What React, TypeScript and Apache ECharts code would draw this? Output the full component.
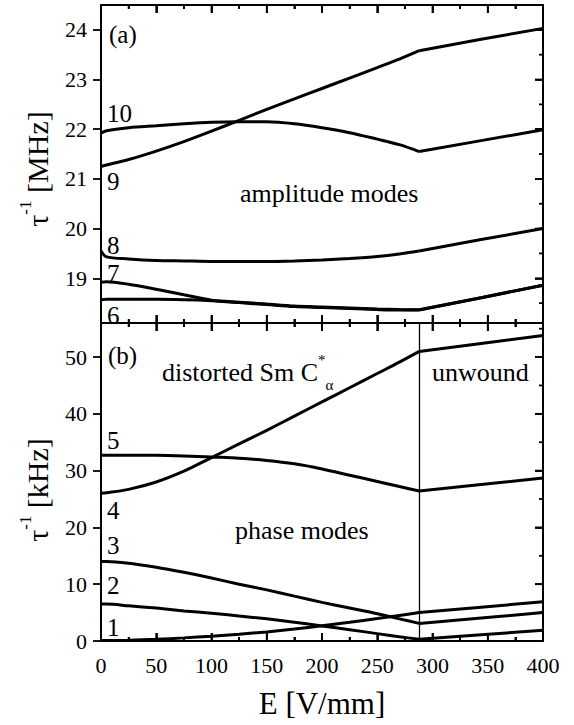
import React, { useEffect, useRef } from "react";
import * as echarts from "echarts";

// ---- data ----
const E = [0, 5, 25, 50, 75, 100, 125, 150, 175, 200, 225, 250, 270, 288, 344, 400];
const E_TRANSITION = 288;

// (a) amplitude modes, MHz
const mode10 = [21.92, 21.97, 22.03, 22.07, 22.11, 22.14, 22.15, 22.15, 22.11, 22.03, 21.93, 21.8, 21.69, 21.55, 21.77, 21.99];
const mode9 = [21.25, 21.28, 21.39, 21.56, 21.75, 21.96, 22.18, 22.4, 22.61, 22.82, 23.03, 23.24, 23.41, 23.58, 23.81, 24.03];
const mode8 = [19.55, 19.43, 19.39, 19.36, 19.35, 19.34, 19.34, 19.34, 19.35, 19.37, 19.4, 19.44, 19.49, 19.55, 19.78, 20.0];
const mode7 = [18.92, 18.93, 18.88, 18.78, 18.67, 18.56, 18.51, 18.47, 18.43, 18.41, 18.39, 18.37, 18.36, 18.36, 18.61, 18.86];
const mode6 = [18.57, 18.58, 18.58, 18.58, 18.57, 18.55, 18.52, 18.48, 18.44, 18.42, 18.4, 18.38, 18.37, 18.365, 18.61, 18.86];

// (b) phase modes, kHz
const mode5 = [32.7, 32.7, 32.7, 32.7, 32.6, 32.4, 32.2, 31.8, 31.2, 30.3, 29.2, 28.1, 27.2, 26.4, 27.55, 28.7];
const mode4 = [26.0, 26.1, 26.7, 28.0, 29.9, 32.3, 34.7, 37.1, 39.6, 42.1, 44.6, 47.1, 49.1, 51.0, 52.4, 53.8];
const mode3 = [14.0, 14.0, 13.7, 13.0, 12.1, 11.1, 10.0, 9.0, 7.9, 6.8, 5.8, 4.8, 3.9, 3.1, 4.05, 5.0];
const mode2 = [6.5, 6.5, 6.2, 5.8, 5.3, 4.9, 4.4, 3.9, 3.3, 2.65, 2.0, 1.3, 0.75, 0.3, 1.1, 1.9];
const mode1 = [0.1, 0.1, 0.15, 0.3, 0.55, 0.85, 1.2, 1.6, 2.1, 2.7, 3.3, 3.95, 4.5, 5.0, 5.95, 6.9];

// ---- axes / ticks ----
const X_MIN = 0;
const X_MAX = 400;
const X_STEP = 50;
const xMajorTicks = [0, 50, 100, 150, 200, 250, 300, 350, 400];
const xMinorTicks = [25, 75, 125, 175, 225, 275, 325, 375];
const TOP_MIN = 18.1;
const TOP_MAX = 24.5;
const topMajorTicks = [19, 20, 21, 22, 23, 24];
const topMinorTicks = [18.5, 19.5, 20.5, 21.5, 22.5, 23.5];
const BOT_MIN = 0;
const BOT_MAX = 56;
const botMajorTicks = [0, 10, 20, 30, 40, 50];
const botMinorTicks = [5, 15, 25, 35, 45, 55];

const FONT = "Liberation Serif";
const BLACK = "#000";

const GRID_LEFT = 101;
const GRID_W = 442;
const GRID_H = 318;
const TOP_Y = 5;
const BOT_Y = TOP_Y + GRID_H;
const MAJOR_LEN = 8;
const MINOR_LEN = 4;
const TICK_W = 1.8;

function xAxisDef(gridIndex: number, position: string, showLabel: boolean, extra: any = {}) {
  return {
    type: "value",
    gridIndex,
    position,
    min: X_MIN,
    max: X_MAX,
    interval: X_STEP,
    axisLine: { show: true, onZero: false, lineStyle: { color: BLACK, width: 2 } },
    axisTick: { show: true, inside: true, length: MAJOR_LEN, lineStyle: { color: BLACK, width: TICK_W } },
    minorTick: { show: true, splitNumber: 2, length: MINOR_LEN, lineStyle: { color: BLACK, width: TICK_W } },
    axisLabel: { show: showLabel, fontSize: 22, color: BLACK, fontFamily: FONT, margin: 13 },
    splitLine: { show: false },
    minorSplitLine: { show: false },
    ...extra,
  };
}

function yAxisDef(gridIndex: number, position: string, min: number, max: number, major: number[], showLabel: boolean) {
  return {
    type: "value",
    gridIndex,
    position,
    min,
    max,
    axisLine: { show: true, onZero: false, lineStyle: { color: BLACK, width: 2 } },
    axisTick: {
      show: true,
      inside: position === "right",
      length: MAJOR_LEN,
      customValues: major,
      lineStyle: { color: BLACK, width: TICK_W },
    },
    axisLabel: showLabel
      ? { show: true, customValues: major, fontSize: 22, color: BLACK, fontFamily: FONT, margin: 14 }
      : { show: false },
    splitLine: { show: false },
  };
}

// one short tick segment, drawn as a line series through the axis scales
function tickLine(xi: number, yi: number, p1: number[], p2: number[]) {
  return {
    type: "line",
    name: "tick",
    xAxisIndex: xi,
    yAxisIndex: yi,
    data: [p1, p2],
    showSymbol: false,
    symbol: "none",
    clip: false,
    silent: true,
    z: 4,
    lineStyle: { color: BLACK, width: TICK_W, cap: "butt" },
    itemStyle: { color: BLACK },
  };
}

function panelTicks(xi: number, yi: number, yMin: number, yMax: number, yMajor: number[], yMinor: number[]) {
  const dyPerPx = (yMax - yMin) / GRID_H;
  const dxPerPx = (X_MAX - X_MIN) / GRID_W;
  const out: any[] = [];
  const xs = [
    ...xMajorTicks.map((v) => [v, MAJOR_LEN]),
    ...xMinorTicks.map((v) => [v, MINOR_LEN]),
  ];
  xs.forEach(([v, len]) => {
    out.push(tickLine(xi, yi, [v, yMin], [v, yMin + len * dyPerPx]));
    out.push(tickLine(xi, yi, [v, yMax], [v, yMax - len * dyPerPx]));
  });
  const ys = [...yMajor.map((v) => [v, MAJOR_LEN]), ...yMinor.map((v) => [v, MINOR_LEN])];
  ys.forEach(([v, len]) => {
    out.push(tickLine(xi, yi, [X_MIN, v], [X_MIN - len * dxPerPx, v]));
    out.push(tickLine(xi, yi, [X_MAX, v], [X_MAX - len * dxPerPx, v]));
  });
  return out;
}

const splitIdx = E.indexOf(E_TRANSITION);

function curve(name: string, values: number[], xi: number, yi: number, withMark = false) {
  const pts = E.map((e, i) => [e, values[i]]);
  const base = {
    type: "line",
    xAxisIndex: xi,
    yAxisIndex: yi,
    showSymbol: false,
    symbol: "none",
    lineStyle: { color: BLACK, width: 3 },
    itemStyle: { color: BLACK },
    z: 3,
  };
  const pre: any = { ...base, name: name + " (Sm C*α)", data: pts.slice(0, splitIdx + 1), smooth: 0.3 };
  if (withMark) {
    pre.markLine = {
      silent: true,
      symbol: "none",
      label: { show: false },
      lineStyle: { color: BLACK, width: 1.3, type: "solid" },
      data: [{ xAxis: E_TRANSITION }],
    };
  }
  return [pre, { ...base, name: name + " (unwound)", data: pts.slice(splitIdx), smooth: false }];
}

function label(text: string, x: number, y: number, size = 25, align = "left") {
  return {
    type: "text",
    x,
    y,
    silent: true,
    style: { text, fill: BLACK, fontSize: size, fontFamily: FONT, align, verticalAlign: "middle" },
  };
}

function yTitle(unit: string, x: number, y: number) {
  return {
    type: "text",
    x,
    y,
    rotation: Math.PI / 2,
    silent: true,
    style: {
      text: `{t|τ}{s|-1}{t| [${unit}]}`,
      fill: BLACK,
      fontFamily: FONT,
      align: "center",
      verticalAlign: "middle",
      rich: {
        t: { fontSize: 30, fontFamily: FONT, fill: BLACK, lineHeight: 40 },
        s: { fontSize: 17, fontFamily: FONT, fill: BLACK, verticalAlign: "top", lineHeight: 17 },
      },
    },
  };
}

export default function App() {
  const ref = useRef<HTMLDivElement>(null);

  useEffect(() => {
    if (!ref.current) return;
    const chart = echarts.init(ref.current, null, { renderer: "svg" });

    const option: any = {
      animation: false,
      backgroundColor: "#fff",
      textStyle: { fontFamily: FONT },
      grid: [
        { left: GRID_LEFT, top: TOP_Y, width: GRID_W, height: GRID_H },
        { left: GRID_LEFT, top: BOT_Y, width: GRID_W, height: GRID_H },
      ],
      xAxis: [
        xAxisDef(0, "bottom", false),
        xAxisDef(0, "top", false),
        xAxisDef(1, "bottom", true, {
          name: "E [V/mm]",
          nameLocation: "middle",
          nameGap: 47,
          nameTextStyle: { fontSize: 31, fontFamily: FONT, color: BLACK },
        }),
        xAxisDef(1, "top", false),
      ],
      yAxis: [
        yAxisDef(0, "left", TOP_MIN, TOP_MAX, topMajorTicks, true),
        yAxisDef(0, "right", TOP_MIN, TOP_MAX, topMajorTicks, false),
        yAxisDef(1, "left", BOT_MIN, BOT_MAX, botMajorTicks, true),
        yAxisDef(1, "right", BOT_MIN, BOT_MAX, botMajorTicks, false),
      ],
      series: [
        ...curve("10", mode10, 0, 0),
        ...curve("9", mode9, 0, 0),
        ...curve("8", mode8, 0, 0),
        ...curve("7", mode7, 0, 0),
        ...curve("6", mode6, 0, 0),
        ...curve("5", mode5, 2, 2),
        ...curve("4", mode4, 2, 2),
        ...curve("3", mode3, 2, 2),
        ...curve("2", mode2, 2, 2),
        ...curve("1", mode1, 2, 2, true),
        ...panelTicks(0, 0, TOP_MIN, TOP_MAX, topMajorTicks, topMinorTicks),
        ...panelTicks(2, 2, BOT_MIN, BOT_MAX, botMajorTicks, botMinorTicks),
      ],
      graphic: [
        yTitle("MHz", 37, 169),
        yTitle("kHz", 37, 490),
        label("(a)", 109, 34, 25),
        label("10", 107, 113, 25),
        label("9", 107, 181, 25),
        label("8", 107, 245, 25),
        label("7", 107, 273, 25),
        label("6", 107, 315, 25),
        label("amplitude modes", 240, 193, 26),
        label("(b)", 108, 355, 25),
        {
          type: "text",
          x: 162,
          y: 372,
          silent: true,
          style: {
            text: "{n|distorted Sm C}{sup|*}{sub|α}",
            fill: BLACK,
            fontFamily: FONT,
            align: "left",
            verticalAlign: "middle",
            rich: {
              n: { fontSize: 26, fontFamily: FONT, fill: BLACK, lineHeight: 40 },
              sup: { fontSize: 15, fontFamily: FONT, fill: BLACK, verticalAlign: "top", lineHeight: 15 },
              sub: { fontSize: 15, fontFamily: FONT, fill: BLACK, verticalAlign: "bottom", lineHeight: 15 },
            },
          },
        },
        label("unwound", 432, 372, 26),
        label("5", 107, 440, 25),
        label("4", 107, 510, 25),
        label("3", 107, 545, 25),
        label("2", 107, 585, 25),
        label("1", 107, 627, 25),
        label("phase modes", 235, 530, 26),
      ],
    };

    chart.setOption(option);
    return () => chart.dispose();
  }, []);

  return (
    <div
      ref={ref}
      style={{ position: "absolute", left: 0, top: 0, width: 574, height: 725, background: "#fff" }}
    />
  );
}
